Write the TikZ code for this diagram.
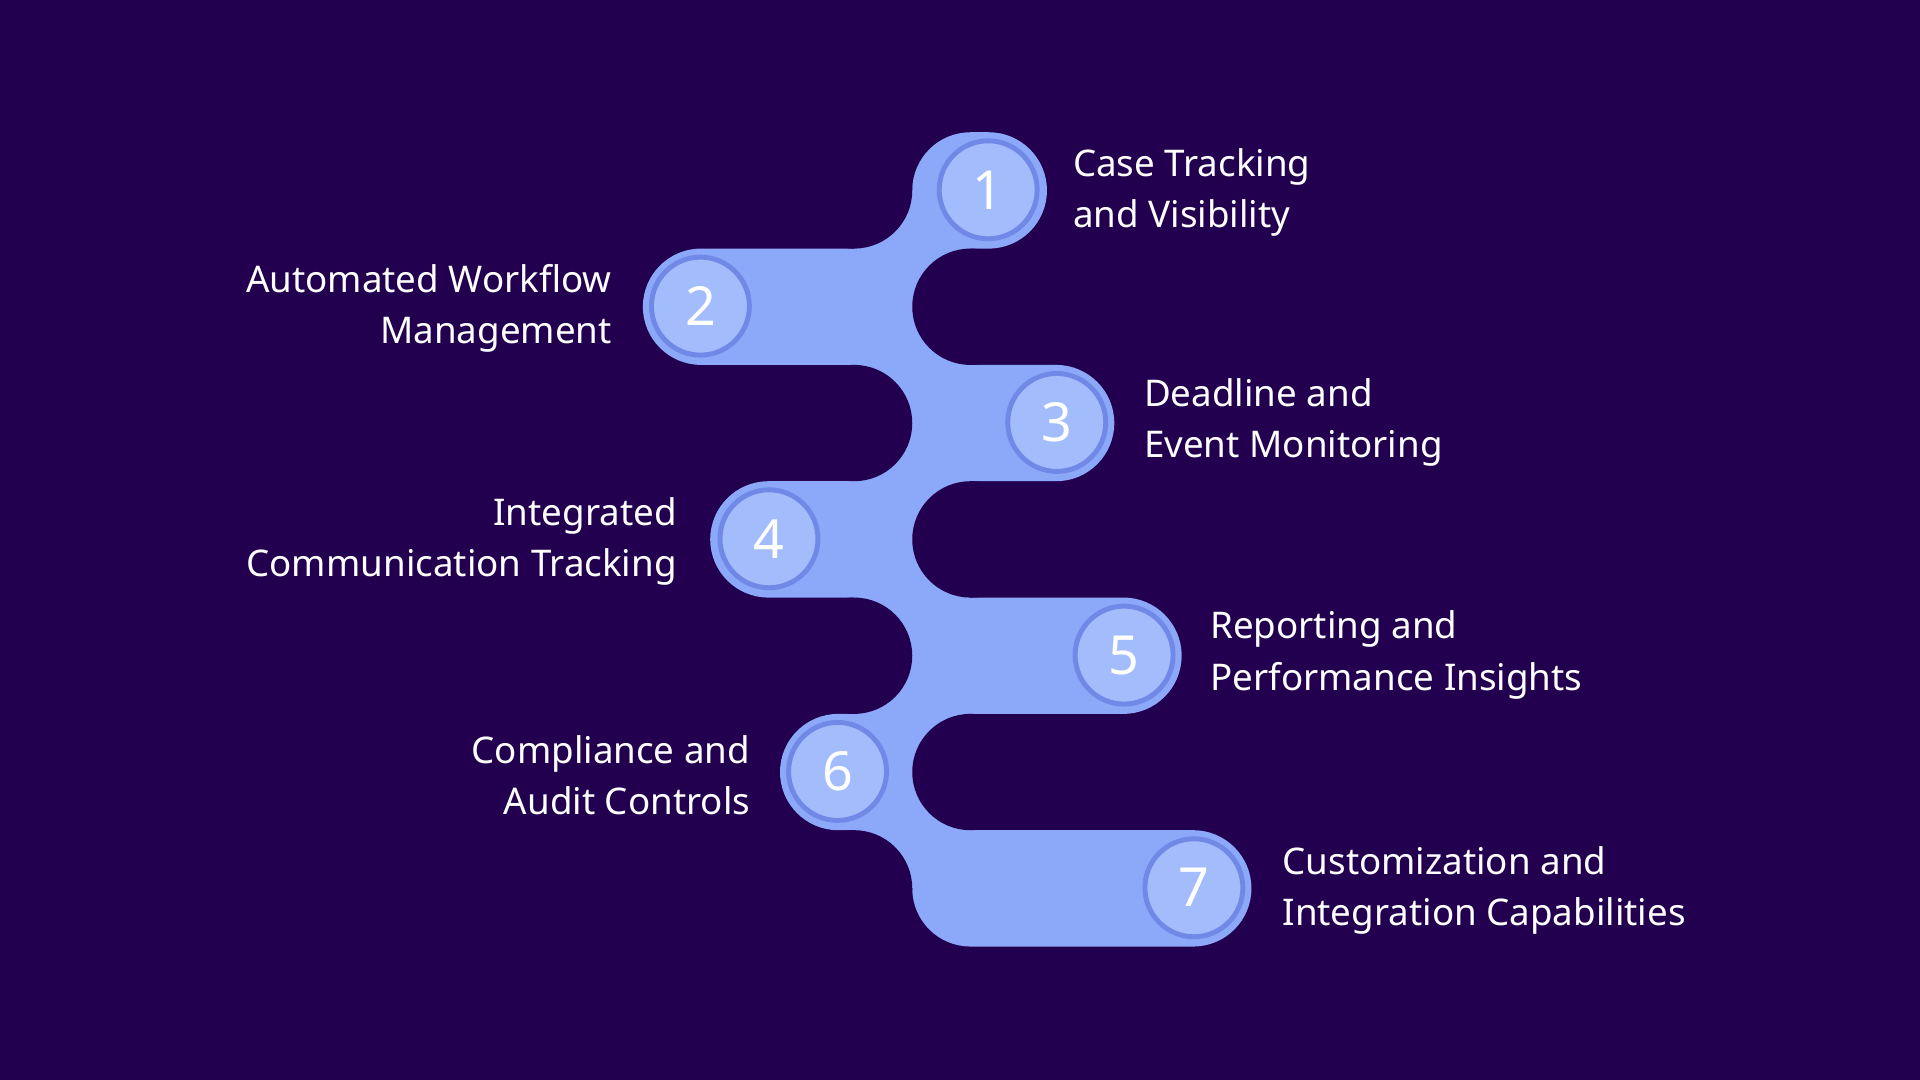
\documentclass[tikz,border=0pt]{standalone}
\usepackage{fontspec}
\setmainfont{Noto Sans}
\begin{document}
\begin{tikzpicture}[x=0.5pt,y=-0.5pt,
  light/.style={fill=band,draw=none},
  hole/.style={fill=bg,draw=none},
  num/.style={circle,minimum size=80*0.5pt,fill=numfill,draw=numring,line width=2pt,text=white,font=\fontsize{22}{26}\selectfont\bfseries,inner sep=0pt},
  lab/.style={text=white,font=\fontsize{15}{21}\selectfont\bfseries,inner sep=0pt}]
\definecolor{bg}{HTML}{22004F}
\definecolor{band}{HTML}{8CA8F8}
\definecolor{numfill}{HTML}{A3BCFC}
\definecolor{numring}{HTML}{7088E6}
\fill[bg] (0,0) rectangle (1568,882);
\useasboundingbox (0,0) rectangle (1568,882);
% spine
\fill[light] (697.5,155.5) rectangle (792.5,725.5);
% bands
\fill[light,rounded corners=23.75pt] (745,108) rectangle (855,203);
\fill[light,rounded corners=23.75pt] (525,203) rectangle (745,298);
\fill[light,rounded corners=23.75pt] (745,298) rectangle (910,393);
\fill[light,rounded corners=23.75pt] (580,393) rectangle (745,488);
\fill[light,rounded corners=23.75pt] (745,488) rectangle (965,583);
\fill[light,rounded corners=23.75pt] (637,583) rectangle (745,678);
\fill[light,rounded corners=23.75pt] (745,678) rectangle (1022,773);
% holes
\foreach \y in {155.5,345.5,535.5,725.5} \fill[hole] (697.5,\y) circle (47.5);
\foreach \y in {250.5,440.5,630.5} \fill[hole] (792.5,\y) circle (47.5);
% numbers
\node[num] (n1) at (807,155) {1};
\node[num] (n2) at (572,250) {2};
\node[num] (n3) at (863,345) {3};
\node[num] (n4) at (628,440) {4};
\node[num] (n5) at (918,535) {5};
\node[num] (n6) at (684,630) {6};
\node[num] (n7) at (975,725) {7};
% labels
\node[lab,anchor=west,align=left] (t1) at (876,157) {Case Tracking\\and Visibility};
\node[lab,anchor=east,align=right] (t2) at (500,252) {Automated Workflow\\Management};
\node[lab,anchor=west,align=left] (t3) at (934,345) {Deadline and\\Event Monitoring};
\node[lab,anchor=east,align=right] (t4) at (553,442) {Integrated\\Communication Tracking};
\node[lab,anchor=west,align=left] (t5) at (988,535) {Reporting and\\Performance Insights};
\node[lab,anchor=east,align=right] (t6) at (613,633) {Compliance and\\Audit Controls};
\node[lab,anchor=west,align=left] (t7) at (1047,727) {Customization and\\Integration Capabilities};
\end{tikzpicture}
\end{document}
